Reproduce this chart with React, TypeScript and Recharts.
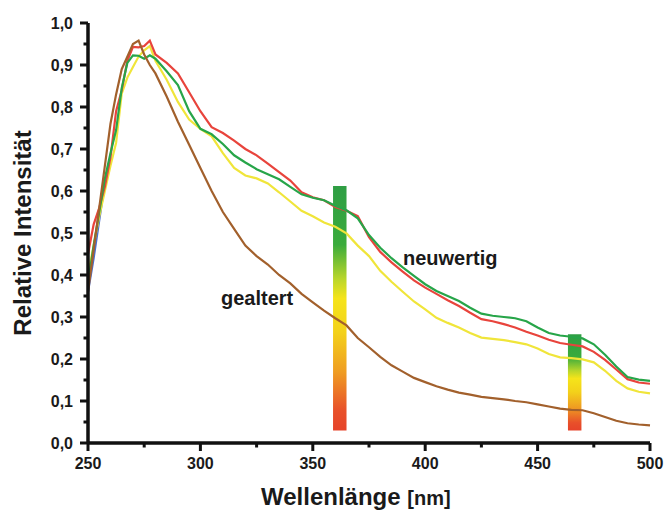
import React from "react"
import { LineChart, Line, XAxis, YAxis, ReferenceArea, ReferenceLine } from "recharts"

// wavelengths in nm (denser near the peak)
const wavelengths = [
  250, 252.5, 255, 257.5, 260, 262.5, 265, 267.5, 270, 272.5, 275, 277.5, 280,
  285, 290, 295, 300, 305, 310, 315, 320, 325, 330,
  335, 340, 345, 350, 355, 360, 365, 370, 375, 380,
  385, 390, 395, 400, 405, 410, 415, 420, 425, 430,
  435, 440, 445, 450, 455, 460, 465, 470, 475, 480,
  485, 490, 495, 500,
]

const intensityRed = [
  0.45, 0.52, 0.56, 0.61, 0.68, 0.79, 0.84, 0.91, 0.943, 0.942, 0.945, 0.958, 0.925,
  0.905, 0.88, 0.835, 0.79, 0.752, 0.738, 0.72, 0.7, 0.685, 0.665,
  0.645, 0.625, 0.597, 0.585, 0.578, 0.562, 0.553, 0.54, 0.49, 0.455,
  0.43, 0.408, 0.387, 0.37, 0.355, 0.34, 0.326, 0.31, 0.295, 0.29,
  0.283, 0.275, 0.265, 0.256, 0.246, 0.238, 0.234, 0.23, 0.217, 0.198,
  0.175, 0.152, 0.144, 0.141,
]

const intensityGreen = [
  0.38, 0.47, 0.55, 0.63, 0.69, 0.745, 0.845, 0.905, 0.923, 0.922, 0.915, 0.923, 0.915,
  0.885, 0.852, 0.79, 0.748, 0.735, 0.712, 0.685, 0.668, 0.652, 0.64,
  0.628, 0.61, 0.592, 0.584, 0.578, 0.565, 0.554, 0.535, 0.495, 0.465,
  0.44, 0.418, 0.398, 0.378, 0.362, 0.35, 0.338, 0.322, 0.308, 0.303,
  0.3, 0.297, 0.29, 0.275, 0.262, 0.256, 0.253, 0.249, 0.235, 0.21,
  0.182, 0.157, 0.151, 0.148,
]

const intensityYellow = [
  0.4, 0.47, 0.54, 0.6, 0.66, 0.715, 0.832, 0.87, 0.895, 0.92, 0.935, 0.945, 0.91,
  0.865, 0.812, 0.77, 0.748, 0.73, 0.69, 0.655, 0.637, 0.63, 0.618,
  0.597, 0.575, 0.553, 0.54, 0.525, 0.515, 0.499, 0.47, 0.445, 0.41,
  0.384, 0.36, 0.337, 0.318, 0.298, 0.286, 0.275, 0.262, 0.251, 0.248,
  0.245, 0.24, 0.235, 0.225, 0.212, 0.204, 0.202, 0.199, 0.192, 0.172,
  0.148, 0.13, 0.122, 0.118,
]

// gealtert
const intensityBrown = [
  0.36, 0.46, 0.56, 0.66, 0.76, 0.83, 0.89, 0.92, 0.95, 0.958, 0.925, 0.9, 0.88,
  0.825, 0.765, 0.71, 0.655, 0.6, 0.55, 0.51, 0.47, 0.445, 0.425,
  0.4, 0.38, 0.355, 0.335, 0.315, 0.297, 0.28, 0.25, 0.228, 0.205,
  0.185, 0.17, 0.155, 0.145, 0.135, 0.127, 0.12, 0.115, 0.11, 0.107,
  0.104, 0.1, 0.097, 0.092, 0.087, 0.082, 0.079, 0.078, 0.071, 0.062,
  0.053, 0.047, 0.044, 0.042,
]

// only visible at the very start
const intensityBlue = [0.36, 0.44, 0.53, 0.62]

// coloured marker bands
const bandStarts = [359, 463.5]
const bandEnds = [365, 469.5]
const bandTops = [0.612, 0.259]
const bandBottom = 0.03

const xMajorTicks = [250, 300, 350, 400, 450, 500]
const xMinorTicks = [275, 325, 375, 425, 475]
const yMajorTicks = [0, 0.1, 0.2, 0.3, 0.4, 0.5, 0.6, 0.7, 0.8, 0.9, 1.0]
const yMinorTicks = [0.05, 0.15, 0.25, 0.35, 0.45, 0.55, 0.65, 0.75, 0.85, 0.95]

const data = wavelengths.map((w, i) => ({
  w,
  red: intensityRed[i],
  green: intensityGreen[i],
  yellow: intensityYellow[i],
  brown: intensityBrown[i],
  blue: intensityBlue[i] ?? null,
}))

const FONT = '"Liberation Sans", Arial, Helvetica, sans-serif'
const TICK_SIZE = 8
const MINOR_TICK = 4.5
const TICK_MARGIN = 7
const INK = "#1a1a1a"

// plot size in px, used to turn tick lengths into data units
const PLOT_W = 562
const PLOT_H = 420
const xUnit = 250 / PLOT_W
const yUnit = 1 / PLOT_H

function XTick(props: any) {
  const { x, y, payload } = props
  return (
    <text x={x} y={y} dy="0.71em" textAnchor="middle" fontFamily={FONT} fontWeight="bold" fontSize={16} fill={INK}>
      {payload.value}
    </text>
  )
}

function YTick(props: any) {
  const { x, y, payload } = props
  return (
    <text x={x} y={y} dy="0.36em" textAnchor="end" fontFamily={FONT} fontWeight="bold" fontSize={16} fill={INK}>
      {Number(payload.value).toFixed(1).replace(".", ",")}
    </text>
  )
}

const textStyle: React.CSSProperties = {
  position: "absolute",
  fontFamily: FONT,
  fontWeight: "bold",
  color: INK,
  whiteSpace: "nowrap",
  lineHeight: 1,
}

const lineProps = { type: "linear" as const, strokeWidth: 2.2, dot: false, isAnimationActive: false }

export default function App() {
  return (
    <div style={{ position: "absolute", left: 0, top: 0, width: 665, height: 512, background: "#fff" }}>
      <LineChart width={665} height={512} data={data} margin={{ top: 23, right: 15, bottom: 39, left: 28 }}>
        <defs>
          <linearGradient id="bandGrad" x1="0" y1="0" x2="0" y2="1">
            <stop offset="0%" stopColor="#2f9e44" />
            <stop offset="24%" stopColor="#3aab3c" />
            <stop offset="38%" stopColor="#b9d62a" />
            <stop offset="46%" stopColor="#f5e41a" />
            <stop offset="60%" stopColor="#f3d11a" />
            <stop offset="76%" stopColor="#ef9d22" />
            <stop offset="92%" stopColor="#e8502a" />
            <stop offset="100%" stopColor="#e6432a" />
          </linearGradient>
        </defs>
        <XAxis
          dataKey="w"
          type="number"
          domain={[250, 500]}
          ticks={xMajorTicks}
          interval={0}
          height={30}
          tickSize={TICK_SIZE}
          tickMargin={TICK_MARGIN}
          tickLine={false}
          axisLine={{ stroke: "#111", strokeWidth: 3.5 }}
          tick={<XTick />}
        />
        <YAxis
          type="number"
          domain={[0, 1]}
          ticks={yMajorTicks}
          interval={0}
          width={60}
          tickSize={TICK_SIZE}
          tickMargin={TICK_MARGIN}
          tickLine={false}
          axisLine={{ stroke: "#111", strokeWidth: 3.5 }}
          tick={<YTick />}
        />
        {bandStarts.map((s, i) => (
          <ReferenceArea
            key={"band" + i}
            x1={s}
            x2={bandEnds[i]}
            y1={bandBottom}
            y2={bandTops[i]}
            fill="url(#bandGrad)"
            fillOpacity={1}
            stroke="none"
          />
        ))}
        <Line {...lineProps} dataKey="blue" stroke="#4a6fd0" />
        <Line {...lineProps} dataKey="yellow" stroke="#f0e53a" />
        <Line {...lineProps} dataKey="red" stroke="#e8443c" />
        <Line {...lineProps} dataKey="green" stroke="#27a549" />
        <Line {...lineProps} dataKey="brown" stroke="#a2602c" />

        {/* axis tick marks, major longer than minor */}
        {[...xMajorTicks, ...xMinorTicks].map((t) => (
          <ReferenceLine
            key={"xt" + t}
            segment={[
              { x: t, y: 0 },
              { x: t, y: -(xMajorTicks.includes(t) ? TICK_SIZE : MINOR_TICK) * yUnit },
            ]}
            stroke="#111"
            strokeWidth={3}
            ifOverflow="visible"
          />
        ))}
        {[...yMajorTicks, ...yMinorTicks].map((t) => (
          <ReferenceLine
            key={"yt" + t}
            segment={[
              { x: 250, y: t },
              { x: 250 - (yMajorTicks.includes(t) ? TICK_SIZE : MINOR_TICK) * xUnit, y: t },
            ]}
            stroke="#111"
            strokeWidth={3}
            ifOverflow="visible"
          />
        ))}
      </LineChart>

      <div style={{ ...textStyle, fontSize: 20, left: 403, top: 248 }}>neuwertig</div>
      <div style={{ ...textStyle, fontSize: 20, left: 221, top: 288 }}>gealtert</div>

      <div style={{ ...textStyle, fontSize: 24, left: 261, top: 485 }}>
        Wellenlänge <span style={{ fontSize: 20 }}>[nm]</span>
      </div>
      <div
        style={{
          ...textStyle,
          fontSize: 24,
          left: 23,
          top: 233,
          transform: "translate(-50%, -50%) rotate(-90deg)",
        }}
      >
        Relative Intensität
      </div>
    </div>
  )
}
